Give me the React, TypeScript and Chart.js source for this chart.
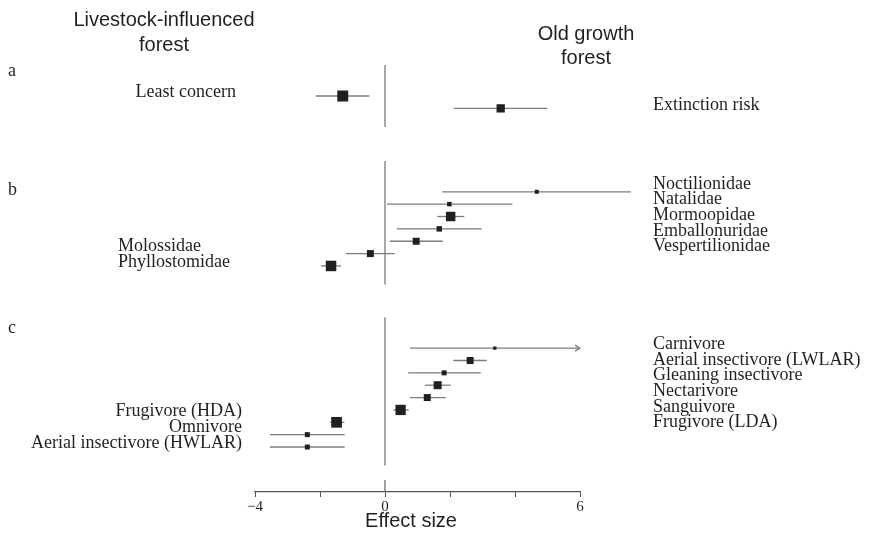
import React, { useEffect, useRef } from 'react';
import { Chart, registerables } from 'chart.js';

Chart.register(...registerables);

// ---- Data ----
const panelLetters = ['a', 'b', 'c'];

const riskCategories = ['Least concern', 'Extinction risk'];
const riskEffect = [-1.3, 3.56];
const riskLower = [-2.13, 2.11];
const riskUpper = [-0.48, 4.99];
const riskWeight = [11, 8.3];
const riskTruncated = [false, false];

const familyCategories = [
  'Noctilionidae',
  'Natalidae',
  'Mormoopidae',
  'Emballonuridae',
  'Vespertilionidae',
  'Molossidae',
  'Phyllostomidae',
];
const familyEffect = [4.67, 1.98, 2.02, 1.67, 0.96, -0.45, -1.66];
const familyLower = [1.76, 0.06, 1.61, 0.36, 0.15, -1.21, -1.97];
const familyUpper = [7.56, 3.92, 2.44, 2.98, 1.78, 0.3, -1.35];
const familyWeight = [4, 4.5, 9.5, 5.5, 7, 7, 10.5];
const familyTruncated = [false, false, false, false, false, false, false];

const guildCategories = [
  'Carnivore',
  'Aerial insectivore (LWLAR)',
  'Gleaning insectivore',
  'Nectarivore',
  'Sanguivore',
  'Frugivore (LDA)',
  'Frugivore (HDA)',
  'Omnivore',
  'Aerial insectivore (HWLAR)',
];
const guildEffect = [3.38, 2.62, 1.82, 1.62, 1.3, 0.48, -1.49, -2.39, -2.39];
const guildLower = [0.77, 2.1, 0.71, 1.23, 0.77, 0.26, -1.69, -3.54, -3.54];
const guildUpper = [6.0, 3.13, 2.95, 2.02, 1.87, 0.73, -1.25, -1.24, -1.24];
const guildWeight = [3.3, 7, 5, 8, 7, 10.3, 10.7, 5, 5];
const guildTruncated = [true, false, false, false, false, false, false, false, false];

const xTickValues = [-4, -2, 0, 2, 4, 6];
const xTickLabels = ['−4', '', '0', '', '', '6'];

const headerLeft = ['Livestock-influenced', 'forest'];
const headerRight = ['Old growth', 'forest'];
const xTitle = 'Effect size';

// ---- Layout ----
const panels = [
  { cats: riskCategories, eff: riskEffect, lo: riskLower, hi: riskUpper, w: riskWeight, tr: riskTruncated },
  { cats: familyCategories, eff: familyEffect, lo: familyLower, hi: familyUpper, w: familyWeight, tr: familyTruncated },
  { cats: guildCategories, eff: guildEffect, lo: guildLower, hi: guildUpper, w: guildWeight, tr: guildTruncated },
];
const panelStartRow = [0, 7.75, 20.4];
const letterY = [71, 190, 328];
const leftAlign: CanvasTextAlign[] = ['right', 'left', 'right'];
const leftX = [236, 118, 242];
const rightX = 653;
const rightOffset = [-3, -8, -4];

const SERIF = '"Liberation Serif", "Times New Roman", serif';
const SANS = '"Liberation Sans", Arial, sans-serif';
const INK = '#231f20';
const CI_COLOR = '#7d7d7d';
const ZERO_COLOR = '#8a8a8a';

export default function App() {
  const canvasRef = useRef<HTMLCanvasElement | null>(null);

  useEffect(() => {
    const canvas = canvasRef.current;
    if (!canvas) return;

    const datasets: any[] = [];
    const points: any[] = [];
    const radii: number[] = [];

    panels.forEach((p, i) => {
      const start = panelStartRow[i];
      const n = p.cats.length;
      datasets.push({
        data: [
          { x: 0, y: start - 2.5 },
          { x: 0, y: start + n - 1 + 1.5 },
        ],
        showLine: true,
        borderColor: ZERO_COLOR,
        borderWidth: 1.5,
        pointRadius: 0,
        clip: false,
        order: 2,
      });
      p.cats.forEach((_, j) => {
        const r = start + j;
        datasets.push({
          data: [
            { x: p.lo[j], y: r },
            { x: p.hi[j], y: r },
          ],
          showLine: true,
          borderColor: CI_COLOR,
          borderWidth: 1.3,
          pointRadius: 0,
          clip: false,
          order: 1,
        });
        points.push({ x: p.eff[j], y: r });
        radii.push(p.w[j] / Math.SQRT2);
      });
    });

    // short zero stub above axis
    datasets.push({
      data: [
        { x: 0, y: 31.07 },
        { x: 0, y: 32.04 },
      ],
      showLine: true,
      borderColor: '#666',
      borderWidth: 1.2,
      pointRadius: 0,
      clip: false,
      order: 2,
    });

    datasets.push({
      data: points,
      pointStyle: 'rect',
      pointRadius: radii,
      pointBackgroundColor: INK,
      pointBorderColor: INK,
      pointBorderWidth: 0,
      showLine: false,
      clip: false,
      order: 0,
    });

    const textPlugin = {
      id: 'forestText',
      afterDatasetsDraw(chart: any) {
        const { ctx, scales } = chart;
        const x = scales.x;
        const y = scales.y;
        ctx.save();
        // arrows for truncated intervals
        ctx.strokeStyle = CI_COLOR;
        ctx.lineWidth = 1.2;
        panels.forEach((p, i) => {
          p.tr.forEach((t, j) => {
            if (!t) return;
            const px = x.getPixelForValue(p.hi[j]);
            const py = y.getPixelForValue(panelStartRow[i] + j);
            ctx.beginPath();
            ctx.moveTo(px - 5, py - 3);
            ctx.lineTo(px, py);
            ctx.lineTo(px - 5, py + 3);
            ctx.stroke();
          });
        });

        ctx.fillStyle = INK;
        ctx.textBaseline = 'middle';
        // headers
        ctx.font = '20px ' + SANS;
        ctx.textAlign = 'center';
        ctx.fillText(headerLeft[0], 164, 20);
        ctx.fillText(headerLeft[1], 164, 45);
        ctx.fillText(headerRight[0], 586, 34);
        ctx.fillText(headerRight[1], 586, 58);
        ctx.fillText(xTitle, 411, 521);

        ctx.font = '18px ' + SERIF;
        panels.forEach((p, i) => {
          ctx.textAlign = 'left';
          ctx.fillText(panelLetters[i], 8, letterY[i]);
          const rightIdx = p.eff.map((v, j) => (v >= 0 ? j : -1)).filter((j) => j >= 0);
          const leftIdx = p.eff.map((v, j) => (v < 0 ? j : -1)).filter((j) => j >= 0);
          if (rightIdx.length) {
            const top = y.getPixelForValue(panelStartRow[i] + rightIdx[0]) + rightOffset[i];
            ctx.textAlign = 'left';
            rightIdx.forEach((j, k) => {
              ctx.fillText(p.cats[j], rightX, top + k * 15.7);
            });
          }
          if (leftIdx.length) {
            const bottom = y.getPixelForValue(panelStartRow[i] + leftIdx[leftIdx.length - 1]) - 4;
            ctx.textAlign = leftAlign[i];
            const m = leftIdx.length;
            leftIdx.forEach((j, k) => {
              ctx.fillText(p.cats[j], leftX[i], bottom - (m - 1 - k) * 16);
            });
          }
        });
        ctx.restore();
      },
    };

    const chart = new Chart(canvas, {
      type: 'scatter',
      data: { datasets },
      options: {
        animation: false,
        responsive: false,
        maintainAspectRatio: false,
        devicePixelRatio: 1,
        layout: { padding: { left: 255, right: 292, top: 60, bottom: 0 } },
        plugins: { legend: { display: false }, tooltip: { enabled: false } },
        scales: {
          x: {
            type: 'linear',
            position: 'bottom',
            min: -4,
            max: 6,
            afterBuildTicks: (s: any) => {
              s.ticks = xTickValues.map((v) => ({ value: v }));
            },
            afterFit: (s: any) => {
              s.height = 44;
            },
            ticks: {
              autoSkip: false,
              maxRotation: 0,
              padding: 1,
              color: INK,
              font: { family: SERIF, size: 15 },
              callback: (v: any) => {
                const idx = xTickValues.indexOf(Number(v));
                return idx >= 0 ? xTickLabels[idx] : '';
              },
            },
            grid: { drawOnChartArea: false, drawTicks: true, tickLength: 5, color: '#555' },
            border: { display: true, color: '#555', width: 1.2 },
          },
          y: {
            type: 'linear',
            display: false,
            reverse: true,
            min: -2.913,
            max: 32.04,
          },
        },
      },
      plugins: [textPlugin],
    });

    return () => chart.destroy();
  }, []);

  return (
    <div style={{ position: 'fixed', left: 0, top: 0, width: 872, height: 536, background: '#fff' }}>
      <canvas ref={canvasRef} width={872} height={536} />
    </div>
  );
}
